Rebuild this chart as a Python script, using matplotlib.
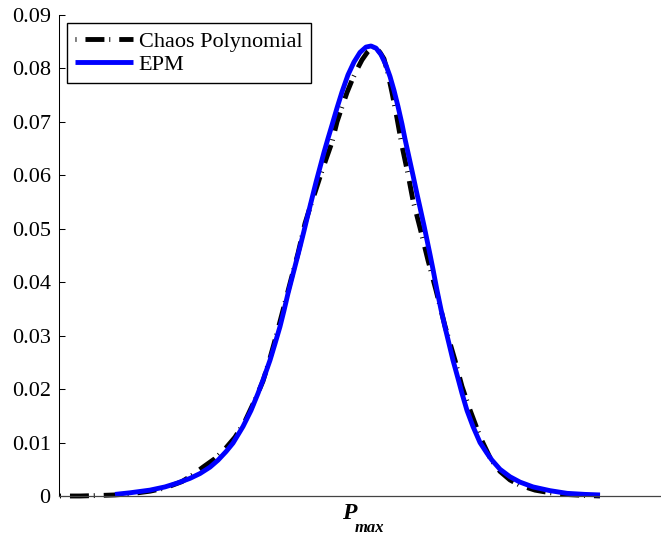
import matplotlib
matplotlib.use('Agg')
import matplotlib.pyplot as plt

# ---- data (x in arbitrary P_max units) ----
epm_x = [115, 130, 150, 165, 177, 190, 200, 210, 218, 226, 233, 243, 251, 258, 264,
         270, 275, 280, 284, 288, 292, 296, 300, 304, 308, 312, 316, 320, 324, 328,
         332, 337, 342, 348, 354, 360, 366, 371, 376, 381, 386, 390, 394, 398, 402,
         405, 409, 413, 417, 420, 424, 427, 430, 433, 437, 441, 445, 449, 453, 458,
         462, 467, 473, 480, 487, 492, 500, 510, 520, 533, 550, 567, 585, 600]
epm_y = [0.0003, 0.0006, 0.0011, 0.0017, 0.0024, 0.0033, 0.0042, 0.0054, 0.0067, 0.0083,
         0.0099, 0.0130, 0.0160, 0.0192, 0.0222, 0.0254, 0.0285, 0.0317, 0.0347, 0.0379,
         0.0408, 0.0437, 0.0466, 0.0496, 0.0527, 0.0557, 0.0587, 0.0615, 0.0643, 0.0669,
         0.0694, 0.0726, 0.0756, 0.0788, 0.0812, 0.0830, 0.0840, 0.0842, 0.0838, 0.0826,
         0.0806, 0.0785, 0.0759, 0.0729, 0.0696, 0.0668, 0.0634, 0.0600, 0.0565, 0.0540,
         0.0506, 0.0479, 0.0452, 0.0424, 0.0385, 0.0349, 0.0316, 0.0285, 0.0254, 0.0220,
         0.0192, 0.0160, 0.0130, 0.0100, 0.0080, 0.0067, 0.0050, 0.0036, 0.0026, 0.0017,
         0.0010, 0.0005, 0.0003, 0.0002]

chaos_x = [60, 80, 100, 115, 130, 150, 165, 182, 193, 203, 215, 225, 235, 245, 255,
           263, 270, 277, 284, 291, 298, 305, 310, 315, 320, 326, 332, 337, 342, 347,
           352, 357, 362, 368, 374, 380, 384, 388, 392, 397, 402, 408, 413, 420, 428,
           436, 445, 455, 462, 470, 480, 491, 500, 510, 520, 535, 550, 565, 585, 600]
chaos_y = [0.0000, 0.0000, 0.0001, 0.0002, 0.0004, 0.0009, 0.0015, 0.0027, 0.0040, 0.0054,
           0.0070, 0.0088, 0.0110, 0.0140, 0.0180, 0.0215, 0.0258, 0.0305, 0.0355, 0.0405,
           0.0454, 0.0510, 0.0540, 0.0568, 0.0597, 0.0630, 0.0662, 0.0700, 0.0728, 0.0755,
           0.0778, 0.0798, 0.0816, 0.0832, 0.0843, 0.0830, 0.0818, 0.0790, 0.0755, 0.0707,
           0.0655, 0.0602, 0.0553, 0.0502, 0.0441, 0.0385, 0.0318, 0.0254, 0.0205, 0.0161,
           0.0111, 0.0068, 0.0046, 0.0030, 0.0020, 0.0011, 0.0006, 0.0003, 0.0001, 0.0000]

ytick_vals = [0, 0.01, 0.02, 0.03, 0.04, 0.05, 0.06, 0.07, 0.08, 0.09]
ytick_labels = ['0', '0.01', '0.02', '0.03', '0.04', '0.05', '0.06', '0.07', '0.08', '0.09']
series_labels = ['Chaos Polynomial', 'EPM']

plt.rcParams['font.family'] = ['Liberation Serif', 'DejaVu Serif']

W, H = 661, 536
fig = plt.figure(figsize=(W / 100, H / 100), dpi=100)
ax = fig.add_axes([59 / W, 1 - 496 / H, 1 - 59 / W, (496 - 15) / H])

ax.plot(chaos_x, chaos_y, color='black', lw=3.5,
        linestyle=(4.9, (3.9, 1.0, 0.2, 1.85)), label=series_labels[0], clip_on=False)
ax.plot(epm_x, epm_y, color='#0000ff', lw=3.5, label=series_labels[1],
        solid_capstyle='butt', clip_on=False)

ax.set_xlim(59, 661)
ax.set_ylim(0, 0.09)
ax.set_yticks(ytick_vals, ytick_labels)
ax.set_xticks([])
for s in ['top', 'right']:
    ax.spines[s].set_visible(False)
ax.spines['left'].set_linewidth(0.75)
ax.spines['bottom'].set_linewidth(0.9)
ax.spines['bottom'].set_color('#444444')
ax.tick_params(axis='y', direction='in', length=4, width=0.75, labelsize=16, pad=6)

leg = ax.legend(loc='upper left', bbox_to_anchor=(67 / W, 1 - 23 / H),
                bbox_transform=fig.transFigure, borderaxespad=0, fontsize=16,
                handlelength=2.6, handletextpad=0.25, borderpad=0.38,
                labelspacing=0.1, fancybox=False, framealpha=1, edgecolor='black')
leg.get_frame().set_linewidth(1.0)

fig.text(342 / W, 1 - 519 / H, 'P', fontsize=17, weight='bold', style='italic', va='baseline')
fig.text(355 / W, 1 - 531.5 / H, 'max', fontsize=12, weight='bold', style='italic', va='baseline')

fig.savefig('out.png', dpi=100)
